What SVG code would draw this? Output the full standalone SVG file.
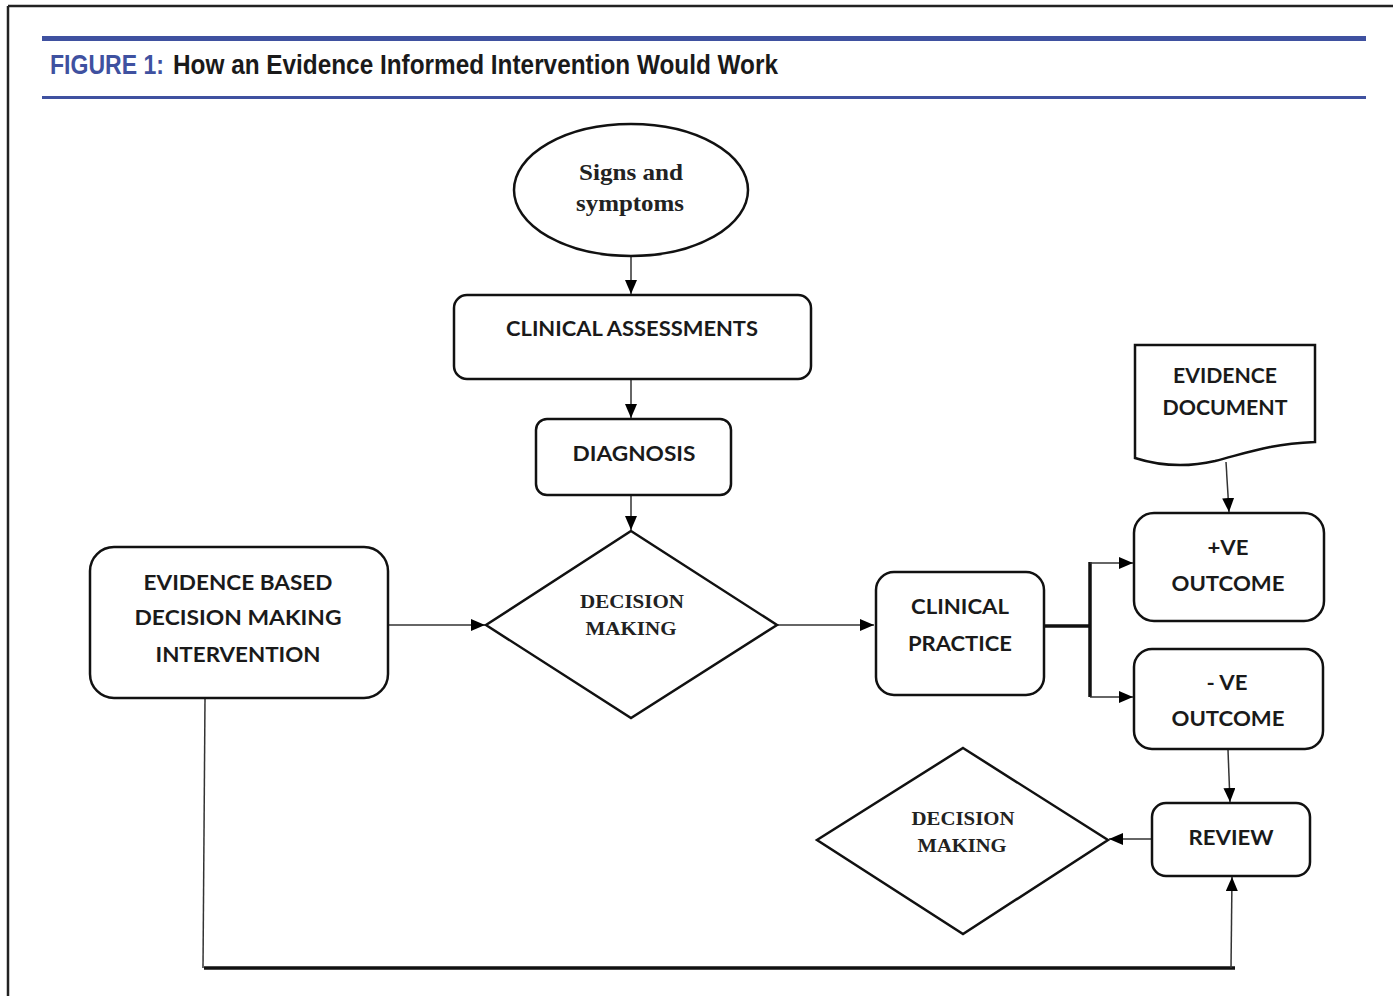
<svg xmlns="http://www.w3.org/2000/svg" width="1393" height="996" viewBox="0 0 1393 996">
<style>
.node{fill:#fff;stroke:#111;stroke-width:2.5}
.lbl{font-family:Lato,"Open Sans","Liberation Sans",sans-serif;font-weight:bold;font-size:21px;fill:#1a1a1a;text-anchor:middle}
.ser{font-family:"Liberation Serif","DejaVu Serif",serif;font-weight:bold;fill:#222;text-anchor:middle}
.thin{fill:none;stroke:#333;stroke-width:1.5}
.thick{fill:none;stroke:#111;stroke-width:3.5}
.title{font-family:"Liberation Sans",Arial,sans-serif;font-weight:bold;font-size:27px}
</style>
<defs>
<marker id="ah" viewBox="0 0 14 12" refX="14" refY="6" markerWidth="14" markerHeight="12" markerUnits="userSpaceOnUse" orient="auto">
<path d="M0,0 L14,6 L0,12 Z" fill="#000"/>
</marker>
</defs>
<rect width="1393" height="996" fill="#fff"/>
<g id="frame">
<line x1="8" y1="6" x2="1393" y2="6" stroke="#222" stroke-width="2.5"/>
<line x1="8" y1="6" x2="8" y2="996" stroke="#222" stroke-width="2.5"/>
<rect x="42" y="36" width="1324" height="5" fill="#3f51a0"/>
<rect x="42" y="96" width="1324" height="3" fill="#3f51a0"/>
<text class="title" x="50" y="74" fill="#3f51a0" textLength="114" lengthAdjust="spacingAndGlyphs">FIGURE 1:</text>
<text class="title" x="173" y="74" fill="#1a1a1a" textLength="605" lengthAdjust="spacingAndGlyphs">How an Evidence Informed Intervention Would Work</text>
</g>
<g id="connectors">
<line class="thin" x1="631" y1="257" x2="631" y2="294" marker-end="url(#ah)"/>
<line class="thin" x1="631" y1="380" x2="631" y2="418" marker-end="url(#ah)"/>
<line class="thin" x1="631" y1="496" x2="631" y2="530" marker-end="url(#ah)"/>
<line class="thin" x1="389" y1="625" x2="485" y2="625" marker-end="url(#ah)"/>
<line class="thin" x1="777" y1="625" x2="874" y2="625" marker-end="url(#ah)"/>
<polyline class="thick" points="1045,626 1090,626"/>
<line class="thick" x1="1090" y1="562" x2="1090" y2="697"/>
<line class="thin" x1="1090" y1="563" x2="1133" y2="563" marker-end="url(#ah)"/>
<line class="thin" x1="1090" y1="697" x2="1133" y2="697" marker-end="url(#ah)"/>
<line class="thin" x1="1226" y1="462" x2="1229" y2="512" marker-end="url(#ah)"/>
<line class="thin" x1="1228" y1="750" x2="1230" y2="802" marker-end="url(#ah)"/>
<line class="thin" x1="1152" y1="839" x2="1109" y2="839" marker-end="url(#ah)"/>
<polyline class="thin" points="205,699 203,968"/>
<line x1="204" y1="968" x2="1235" y2="968" stroke="#111" stroke-width="3.5"/>
<line class="thin" x1="1231" y1="968" x2="1232" y2="877" marker-end="url(#ah)"/>
</g>
<g id="signs">
<ellipse class="node" cx="631" cy="190" rx="117" ry="66"/>
<text class="ser" x="631" y="180" font-size="24" textLength="104" lengthAdjust="spacingAndGlyphs">Signs and</text>
<text class="ser" x="630" y="211" font-size="24" textLength="108" lengthAdjust="spacingAndGlyphs">symptoms</text>
</g>
<g id="clinical-assessments">
<rect class="node" x="454" y="295" width="357" height="84" rx="13"/>
<text class="lbl" x="632" y="336" textLength="252" lengthAdjust="spacingAndGlyphs">CLINICAL ASSESSMENTS</text>
</g>
<g id="diagnosis">
<rect class="node" x="536" y="419" width="195" height="76" rx="11"/>
<text class="lbl" x="634" y="461" textLength="123" lengthAdjust="spacingAndGlyphs">DIAGNOSIS</text>
</g>
<g id="decision1">
<polygon class="node" points="631,531 777,625 631,718 486,625"/>
<text class="ser" x="632" y="608" font-size="19" textLength="104" lengthAdjust="spacingAndGlyphs">DECISION</text>
<text class="ser" x="631" y="635" font-size="19" textLength="91" lengthAdjust="spacingAndGlyphs">MAKING</text>
</g>
<g id="ebdm">
<rect class="node" x="90" y="547" width="298" height="151" rx="24"/>
<text class="lbl" x="238" y="590" textLength="189" lengthAdjust="spacingAndGlyphs">EVIDENCE BASED</text>
<text class="lbl" x="238" y="625" textLength="207" lengthAdjust="spacingAndGlyphs">DECISION MAKING</text>
<text class="lbl" x="238" y="662" textLength="165" lengthAdjust="spacingAndGlyphs">INTERVENTION</text>
</g>
<g id="clinical-practice">
<rect class="node" x="876" y="572" width="168" height="123" rx="18"/>
<text class="lbl" x="960" y="614" textLength="98" lengthAdjust="spacingAndGlyphs">CLINICAL</text>
<text class="lbl" x="960" y="651" textLength="104" lengthAdjust="spacingAndGlyphs">PRACTICE</text>
</g>
<g id="evidence-document">
<path class="node" d="M1135,345 L1315,345 L1315,442 C1270,444 1250,452 1215,461 C1185,468 1160,466 1135,458 Z"/>
<text class="lbl" x="1225" y="383" textLength="104" lengthAdjust="spacingAndGlyphs">EVIDENCE</text>
<text class="lbl" x="1225" y="415" textLength="125" lengthAdjust="spacingAndGlyphs">DOCUMENT</text>
</g>
<g id="pos-outcome">
<rect class="node" x="1134" y="513" width="190" height="108" rx="20"/>
<text class="lbl" x="1228" y="555" textLength="41" lengthAdjust="spacingAndGlyphs">+VE</text>
<text class="lbl" x="1228" y="591" textLength="113" lengthAdjust="spacingAndGlyphs">OUTCOME</text>
</g>
<g id="neg-outcome">
<rect class="node" x="1134" y="649" width="189" height="100" rx="18"/>
<text class="lbl" x="1227" y="690" textLength="41" lengthAdjust="spacingAndGlyphs">- VE</text>
<text class="lbl" x="1228" y="726" textLength="113" lengthAdjust="spacingAndGlyphs">OUTCOME</text>
</g>
<g id="review">
<rect class="node" x="1152" y="803" width="158" height="73" rx="14"/>
<text class="lbl" x="1231" y="845" textLength="85" lengthAdjust="spacingAndGlyphs">REVIEW</text>
</g>
<g id="decision2">
<polygon class="node" points="963,748 1108,840 963,934 817,840"/>
<text class="ser" x="963" y="825" font-size="19" textLength="103" lengthAdjust="spacingAndGlyphs">DECISION</text>
<text class="ser" x="962" y="852" font-size="19" textLength="89" lengthAdjust="spacingAndGlyphs">MAKING</text>
</g>
</svg>
